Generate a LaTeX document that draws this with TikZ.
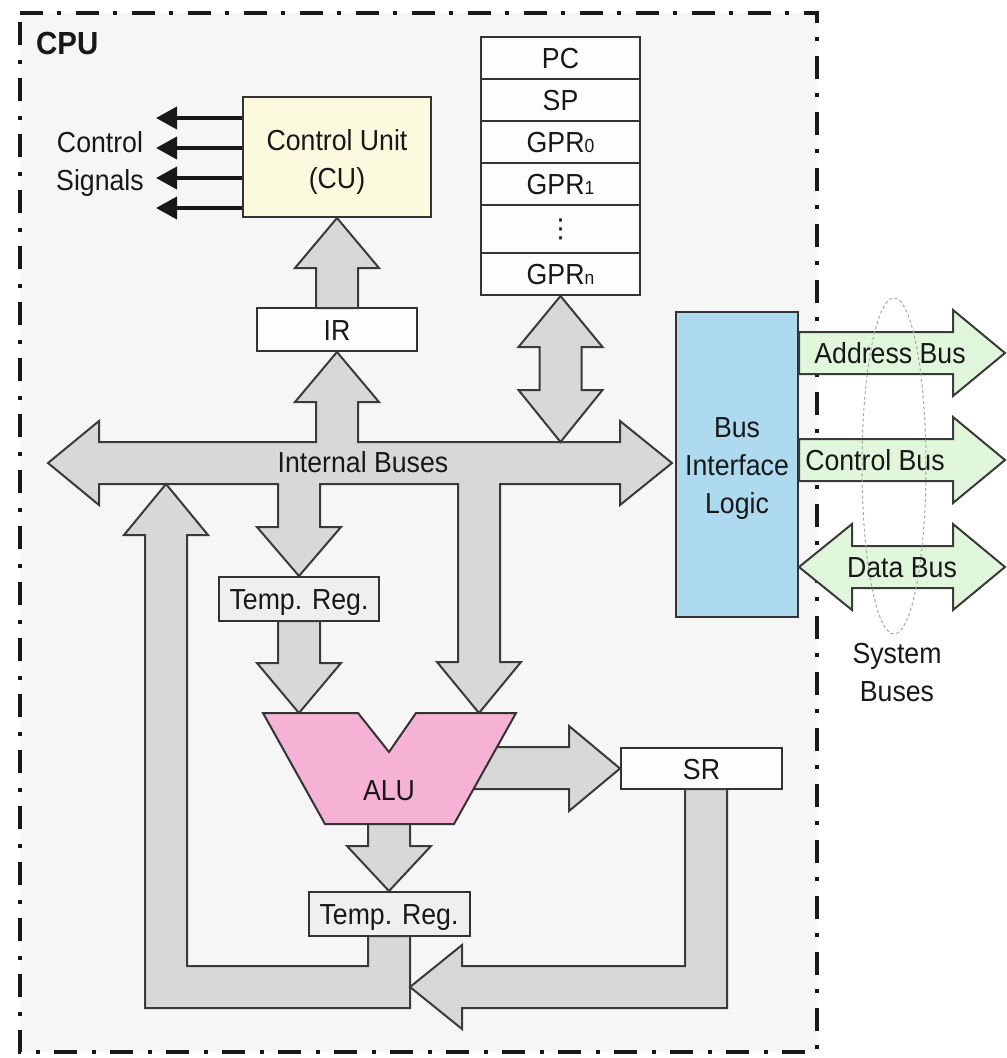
\documentclass[tikz,border=0pt]{standalone}
\usepackage{fontspec}
\setmainfont{Liberation Sans}[FakeStretch=0.92]
\newfontfamily\symfont{DejaVu Sans}
\usetikzlibrary{calc,arrows.meta}

\definecolor{cpubg}{HTML}{F6F6F6}
\definecolor{ink}{HTML}{181818}
\definecolor{edge}{HTML}{333333}
\definecolor{busgray}{HTML}{D8D8D8}
\definecolor{busedge}{HTML}{3A3A3A}
\definecolor{cuyellow}{HTML}{FBF9DE}
\definecolor{alupink}{HTML}{F5B2D4}
\definecolor{biublue}{HTML}{AEDAF0}
\definecolor{sysgreen}{HTML}{E0F7DC}
\definecolor{regwhite}{HTML}{FDFDFD}
\definecolor{tempgray}{HTML}{EFEFEF}

\newcommand\lblfont{\fontsize{29pt}{38pt}\selectfont}
\newcommand\regsub[1]{{\fontsize{19pt}{19pt}\selectfont #1}}

\begin{document}
\begin{tikzpicture}[x=1pt,y=-1pt,
  every node/.style={inner sep=0pt, text=ink},
  lbl/.style={font=\lblfont},
  one/.style={text height=21.1pt, text depth=0pt},
  regbox/.style={draw=edge, line width=2pt, fill=regwhite, lbl, one, minimum width=159pt},
  bus/.style={draw=busedge, line width=2pt, fill=busgray, line join=miter},
  sysbus/.style={bus, fill=sysgreen},
  sig/.style={line width=4pt, draw=ink, -{Triangle[length=21pt,width=22pt]}},
]
% canvas and CPU boundary
\fill[white] (0,0) rectangle (1007,1058);
\fill[cpubg] (20,13) rectangle (817,1052);
\draw[line width=4pt, draw=ink, dash pattern=on 23pt off 14pt on 4pt off 15pt]
  (20,13) -- (817,13) -- (817,1052) -- (20,1052) -- cycle;
\node[font=\fontsize{32pt}{36pt}\selectfont\bfseries, anchor=base west] (cpu) at (36,54) {CPU};

% control unit and its signals
\node[draw=edge, line width=2pt, fill=cuyellow, minimum width=188pt, minimum height=120pt] (cu) at (337,157) {};
\node[lbl, align=center] (cutxt) at (337,161.5) {Control Unit\\(CU)};
\foreach \dy in {22,52,82,112}
  \draw[sig] ($(cu.north west)+(0,\dy)$) -- ++(-86,0);
\node[lbl, align=center] (sigtxt) at (100,163.5) {Control\\Signals};

% register file
\node[regbox, minimum height=42pt] (pc)   at (560.5,58)  {PC};
\node[regbox, minimum height=42pt] (sp)   at (560.5,100) {SP};
\node[regbox, minimum height=42pt] (gpr0) at (560.5,142) {GPR\regsub{0}};
\node[regbox, minimum height=42pt] (gpr1) at (560.5,184) {GPR\regsub{1}};
\node[regbox, minimum height=48pt] (gprd) at (560.5,229) {};
\node[font=\symfont\fontsize{26pt}{26pt}\selectfont] (dots) at (gprd) {⋮};
\node[regbox, minimum height=42pt] (gprn) at (560.5,274) {GPR\regsub{n}};

% other registers
\node[regbox, minimum width=160pt, minimum height=43pt] (ir)  at (337,329.5) {IR};
\node[regbox, fill=tempgray, minimum width=160pt, minimum height=44pt] (tr1) at (299,599) {Temp. Reg.};
\node[regbox, fill=tempgray, minimum width=161pt, minimum height=44pt] (tr2) at (389,914) {Temp. Reg.};
\node[regbox, minimum width=161pt, minimum height=41pt] (sr)  at (701.5,768.5) {SR};

% bus interface logic
\node[draw=edge, line width=2pt, fill=biublue, minimum width=122pt, minimum height=305pt] (biu) at (737,464.5) {};
\node[lbl, align=center] (biutxt) at (737,468.5) {Bus\\Interface\\Logic};

% internal bus with its branches to IR, temp register and ALU
\coordinate (busL) at (48,463);
\coordinate (busR) at (672,463);
\coordinate (aluB) at (479,713);
\draw[bus] (busL) -- (99,421) -- (99,442) -- (316,442) -- (316,402) -- (295,402)
  -- (ir.south) -- (379,402) -- (358,402) -- (358,442) -- (620,442) -- (620,421)
  -- (busR) -- (620,505) -- (620,484) -- (500,484) -- (500,662) -- (521,662)
  -- (aluB) -- (437,662) -- (458,662) -- (458,484) -- (320,484) -- (320,527)
  -- (341,527) -- (tr1.north) -- (257,527) -- (278,527) -- (278,484) -- (99,484)
  -- (99,505) -- cycle;
\node[lbl, one] (ibus) at (363,462) {Internal Buses};

% register file <-> internal bus
\coordinate (regB) at (560.5,442);
\draw[bus] (gprn.south) -- (602.5,347) -- (581.5,347) -- (581.5,390) -- (602.5,390)
  -- (regB) -- (518.5,390) -- (539.5,390) -- (539.5,347) -- (518.5,347) -- cycle;

% IR -> control unit
\draw[bus] (316,308) -- (316,268) -- (295,268) -- (cu.south) -- (379,268) -- (358,268) -- (358,308) -- cycle;

% temp register -> ALU
\coordinate (aluA) at (299,713);
\draw[bus] (278,621) -- (278,663) -- (257,663) -- (aluA) -- (341,663) -- (320,663) -- (320,621) -- cycle;

% ALU -> status register
\draw[bus] (480,747) -- (569,747) -- (569,726) -- (sr.west) -- (569,811) -- (569,789) -- (470,789) -- cycle;

% ALU -> result temp register
\draw[bus] (368,820) -- (368,846) -- (347,846) -- (tr2.north) -- (431,846) -- (410,846) -- (410,820) -- cycle;

% result feedback to the internal bus
\coordinate (fbTip) at (166,484);
\draw[bus] (368,936) -- (368,966) -- (187,966) -- (187,535) -- (208,535) -- (fbTip)
  -- (124,535) -- (145,535) -- (145,1008) -- (410,1008) -- (410,936) -- cycle;

% status register feedback
\coordinate (srTip) at (410,987);
\draw[bus] (685,789) -- (685,966) -- (462,966) -- (462,945) -- (srTip) -- (462,1029)
  -- (462,1008) -- (727,1008) -- (727,789) -- cycle;

% ALU
\draw[draw=edge, line width=2pt, fill=alupink, line join=miter]
  (263,713) -- (358,713) -- (389,752) -- (416,713) -- (516,713) -- (454,824) -- (325,824) -- cycle;
\node[lbl, one] (alu) at (389,790) {ALU};

% system buses
\draw[sysbus] (biu.east |- 0,332) -- (953,332) -- (953,310) -- (1005,353) -- (953,396) -- (953,374) -- (biu.east |- 0,374) -- cycle;
\draw[sysbus] (biu.east |- 0,439) -- (953,439) -- (953,417) -- (1005,460) -- (953,503) -- (953,481) -- (biu.east |- 0,481) -- cycle;
\draw[sysbus] (799,567) -- (852,524) -- (852,546) -- (953,546) -- (953,524) -- (1005,567)
  -- (953,610) -- (953,588) -- (852,588) -- (852,610) -- cycle;
\node[lbl, one] (abus) at (890,353) {Address Bus};
\node[lbl, one] (cbus) at (875,460) {Control Bus};
\node[lbl, one] (dbus) at (902,567) {Data Bus};

\draw[draw=gray!70, line width=1pt, dash pattern=on 3pt off 2.5pt] (894,466) ellipse [x radius=32, y radius=168];
\node[lbl, align=center] (systxt) at (897,672.5) {System\\Buses};
\end{tikzpicture}
\end{document}
